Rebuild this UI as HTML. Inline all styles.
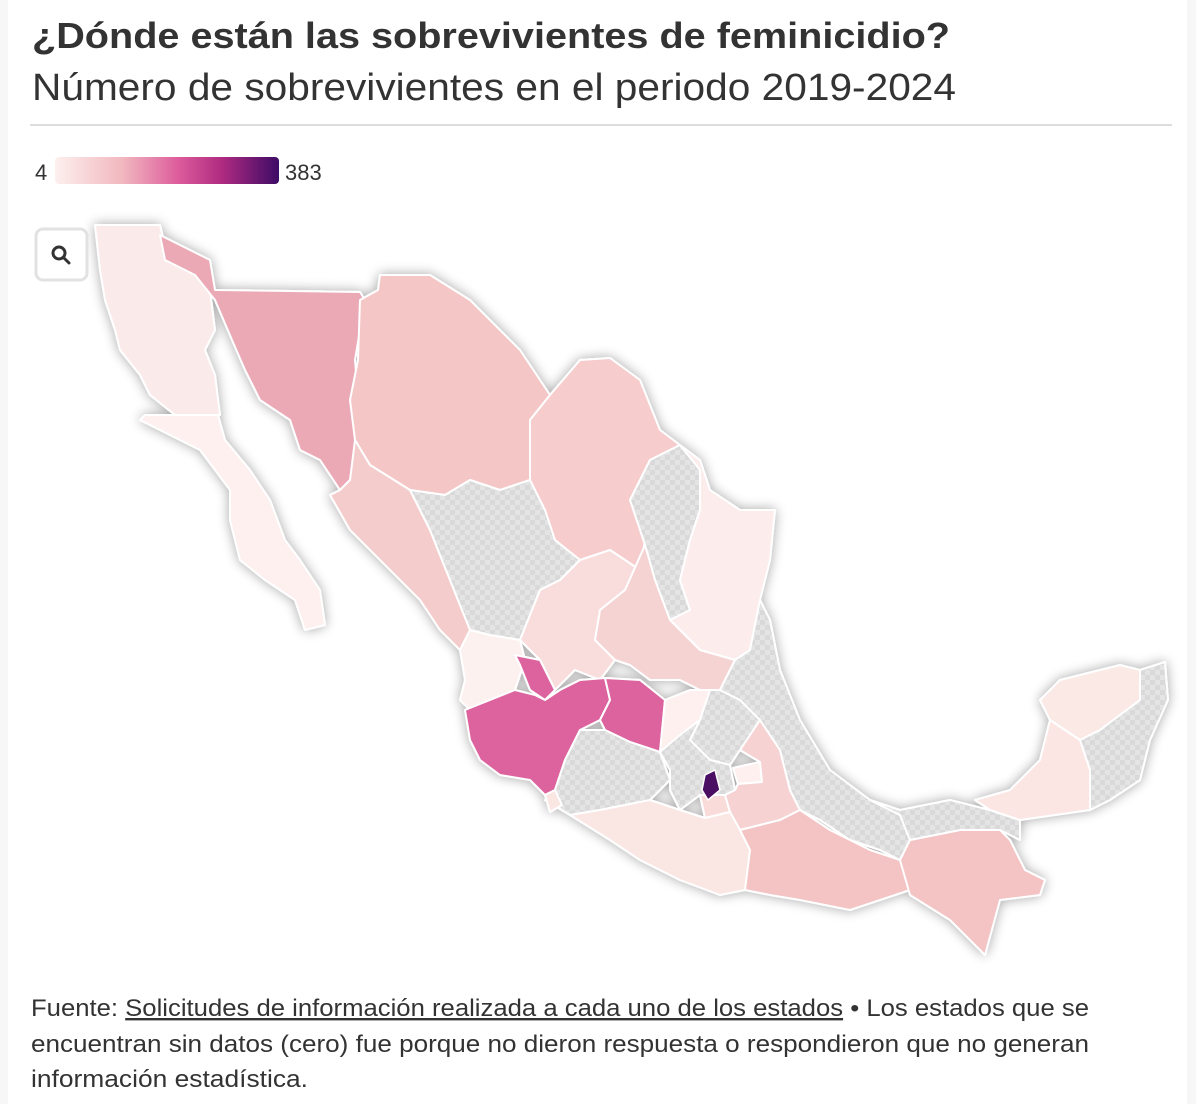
<!DOCTYPE html>
<html><head><meta charset="utf-8"><style>
html,body{margin:0;padding:0;background:#fff;}
body{width:1196px;height:1104px;overflow:hidden;position:relative;}
</style></head><body>
<svg width="1196" height="1104" viewBox="0 0 1196 1104" xmlns="http://www.w3.org/2000/svg" font-family="'Liberation Sans', sans-serif">
<defs>
<pattern id="chk" width="10" height="10" patternUnits="userSpaceOnUse">
<rect width="10" height="10" fill="#e4e4e4"/>
<rect width="5" height="5" fill="#d9d9d9"/><rect x="5" y="5" width="5" height="5" fill="#d9d9d9"/>
</pattern>
<linearGradient id="lg" x1="0" x2="1">
<stop offset="0" stop-color="#fdf0ee"/><stop offset="0.3" stop-color="#f1b8bf"/><stop offset="0.55" stop-color="#dd5c9c"/><stop offset="0.75" stop-color="#ad2a80"/><stop offset="1" stop-color="#3d0b66"/>
</linearGradient>
<filter id="sh" x="-10%" y="-10%" width="120%" height="120%"><feGaussianBlur in="SourceAlpha" stdDeviation="6"/><feComponentTransfer><feFuncA type="linear" slope="0.35"/></feComponentTransfer><feMerge><feMergeNode/><feMergeNode in="SourceGraphic"/></feMerge></filter>
</defs>
<rect x="0" y="0" width="8" height="1104" fill="#f7f7f7"/>
<rect x="1187" y="0" width="9" height="1104" fill="#f7f7f7"/>
<text x="32" y="48" font-size="36" font-weight="bold" fill="#333" textLength="918" lengthAdjust="spacingAndGlyphs">¿Dónde están las sobrevivientes de feminicidio?</text>
<text x="32" y="100" font-size="38" fill="#333" textLength="924" lengthAdjust="spacingAndGlyphs">Número de sobrevivientes en el periodo 2019-2024</text>
<rect x="30" y="124" width="1142" height="2" fill="#ddd"/>
<text x="35" y="180" font-size="22" fill="#333">4</text>
<rect x="55" y="157" width="224" height="27" rx="4" fill="url(#lg)"/>
<text x="285" y="180" font-size="22" fill="#333">383</text>

<g stroke="#fff" stroke-width="2" stroke-linejoin="round" filter="url(#sh)">
<polygon fill="#fbeaea" points="95,225 160,225 165,245 210,290 215,330 205,350 215,375 220,415 175,415 150,395 140,375 120,350 115,330 105,300 100,270"/>
<polygon fill="#fdf0ee" points="145,415 218,415 225,440 250,470 270,500 285,540 300,560 320,590 325,625 305,630 295,600 265,580 240,560 230,520 230,490 200,450 170,435 140,420"/>
<polygon fill="#eba9b6" points="160,235 210,260 215,290 360,292 365,300 355,360 360,420 350,480 340,490 320,460 300,450 290,420 260,400 245,370 232,340 215,300 195,275 165,260"/>
<polygon fill="#f4c6c6" points="360,300 378,290 380,275 430,275 470,300 520,350 550,395 530,420 530,480 500,490 470,480 445,495 410,490 370,465 355,440 350,400 358,360"/>
<polygon fill="#f6cccc" points="550,395 580,360 610,358 640,380 660,430 680,445 650,460 630,500 645,540 640,570 610,550 580,560 555,540 540,510 530,480 530,420"/>
<polygon fill="url(#chk)" points="650,460 680,445 700,470 700,510 690,540 680,580 690,610 670,620 655,580 645,545 630,500"/>
<polygon fill="#fcecec" points="680,445 700,460 710,490 740,510 775,510 770,560 760,600 750,650 735,660 700,650 670,620 690,610 680,580 690,540 700,510 700,470"/>
<polygon fill="#f4cccb" points="330,495 340,490 350,480 355,440 370,465 410,490 430,530 450,580 470,630 460,650 440,630 420,600 380,560 350,530"/>
<polygon fill="url(#chk)" points="410,490 445,495 470,480 500,490 530,480 545,510 555,540 580,560 560,580 540,590 520,640 490,635 470,630 450,580 430,530"/>
<polygon fill="#f9dddd" points="540,590 560,580 580,560 610,550 640,570 625,590 600,610 595,640 615,660 600,680 575,670 555,690 540,660 520,640"/>
<polygon fill="#f6d3d3" points="625,590 645,545 655,580 670,620 700,650 735,660 720,690 700,690 680,680 650,680 630,665 615,660 595,640 600,610"/>
<polygon fill="#fdf1ef" points="470,630 490,635 520,640 525,660 515,690 490,700 470,710 460,700 465,680 460,650"/>
<polygon fill="#dd639e" points="540,660 555,690 545,700 530,690 520,665 515,655"/>
<polygon fill="#dd639e" points="465,710 490,700 515,690 535,695 545,700 560,690 580,680 605,678 610,700 600,720 580,730 565,760 555,790 545,795 530,780 500,775 480,760 470,740"/>
<polygon fill="#dd639e" points="605,678 640,680 665,700 660,752 630,742 605,730 600,720 610,700"/>
<polygon fill="#fdf0ee" points="665,700 690,690 710,690 700,720 680,735 670,745 660,752"/>
<polygon fill="url(#chk)" points="700,720 710,690 720,690 740,700 760,720 740,750 730,765 710,760 690,740"/>
<polygon fill="url(#chk)" points="555,790 565,760 580,730 605,730 630,742 660,752 670,780 650,800 600,810 570,815 545,800"/>
<polygon fill="url(#chk)" points="660,752 680,735 700,720 690,740 710,760 730,765 735,790 725,795 700,795 680,810 670,790 670,770"/>
<polygon fill="#f9dcda" points="700,795 725,795 730,812 705,818"/>
<polygon fill="#fdf0ee" points="733,768 760,762 762,782 738,784"/>
<polygon fill="#f6d3d2" points="740,750 760,720 780,750 790,790 800,810 780,820 740,830 730,812 725,795 735,790 738,784 762,782 760,762"/>
<polygon fill="url(#chk)" points="735,660 750,650 760,600 770,620 780,670 800,720 830,770 870,800 900,815 910,840 900,860 880,850 850,840 820,820 800,810 790,790 780,750 760,720 740,700 720,690"/>
<polygon fill="#fae6e3" points="570,815 600,810 650,800 680,810 705,818 730,812 740,830 750,850 745,890 720,895 680,880 640,860 610,840"/>
<polygon fill="#f4c3c4" points="740,830 780,820 800,810 830,830 870,850 900,860 910,890 880,900 850,910 800,900 770,895 745,890 750,850"/>
<polygon fill="#f4c3c4" points="900,860 910,840 960,830 990,820 1010,840 1025,870 1045,880 1040,895 1000,900 985,955 950,920 910,895"/>
<polygon fill="url(#chk)" points="870,800 900,810 950,800 990,810 1020,820 1020,840 1000,830 960,830 910,840 900,815"/>
<polygon fill="#fbe6e3" points="975,800 1010,790 1040,760 1050,720 1080,740 1090,770 1090,810 1020,820 990,810"/>
<polygon fill="#fbe9e6" points="1040,700 1060,680 1120,665 1140,670 1140,700 1100,730 1080,740 1050,720"/>
<polygon fill="url(#chk)" points="1140,670 1165,662 1168,700 1150,740 1140,780 1110,800 1090,810 1090,770 1080,740 1100,730 1140,700"/>
<polygon fill="#fae6e3" points="545,795 555,790 562,805 550,812"/>
</g>
<polygon points="705,775 715,770 720,790 708,800 702,790" fill="#4a0f63" stroke="#fff" stroke-width="1.5"/>

<rect x="36" y="229" width="51" height="51" rx="7" fill="#fff" stroke="#e2e2e2" stroke-width="3"/>
<circle cx="59" cy="253" r="6" fill="none" stroke="#333" stroke-width="3"/>
<line x1="63.5" y1="257.5" x2="69" y2="263" stroke="#333" stroke-width="3" stroke-linecap="round"/>

<text x="31" y="1016" font-size="24" fill="#333" textLength="1058" lengthAdjust="spacingAndGlyphs">Fuente: <tspan text-decoration="underline">Solicitudes de información realizada a cada uno de los estados</tspan> • Los estados que se</text>
<text x="31" y="1052" font-size="24" fill="#333" textLength="1058" lengthAdjust="spacingAndGlyphs">encuentran sin datos (cero) fue porque no dieron respuesta o respondieron que no generan</text>
<text x="31" y="1087" font-size="24" fill="#333" textLength="277" lengthAdjust="spacingAndGlyphs">información estadística.</text>
</svg>
</body></html>
